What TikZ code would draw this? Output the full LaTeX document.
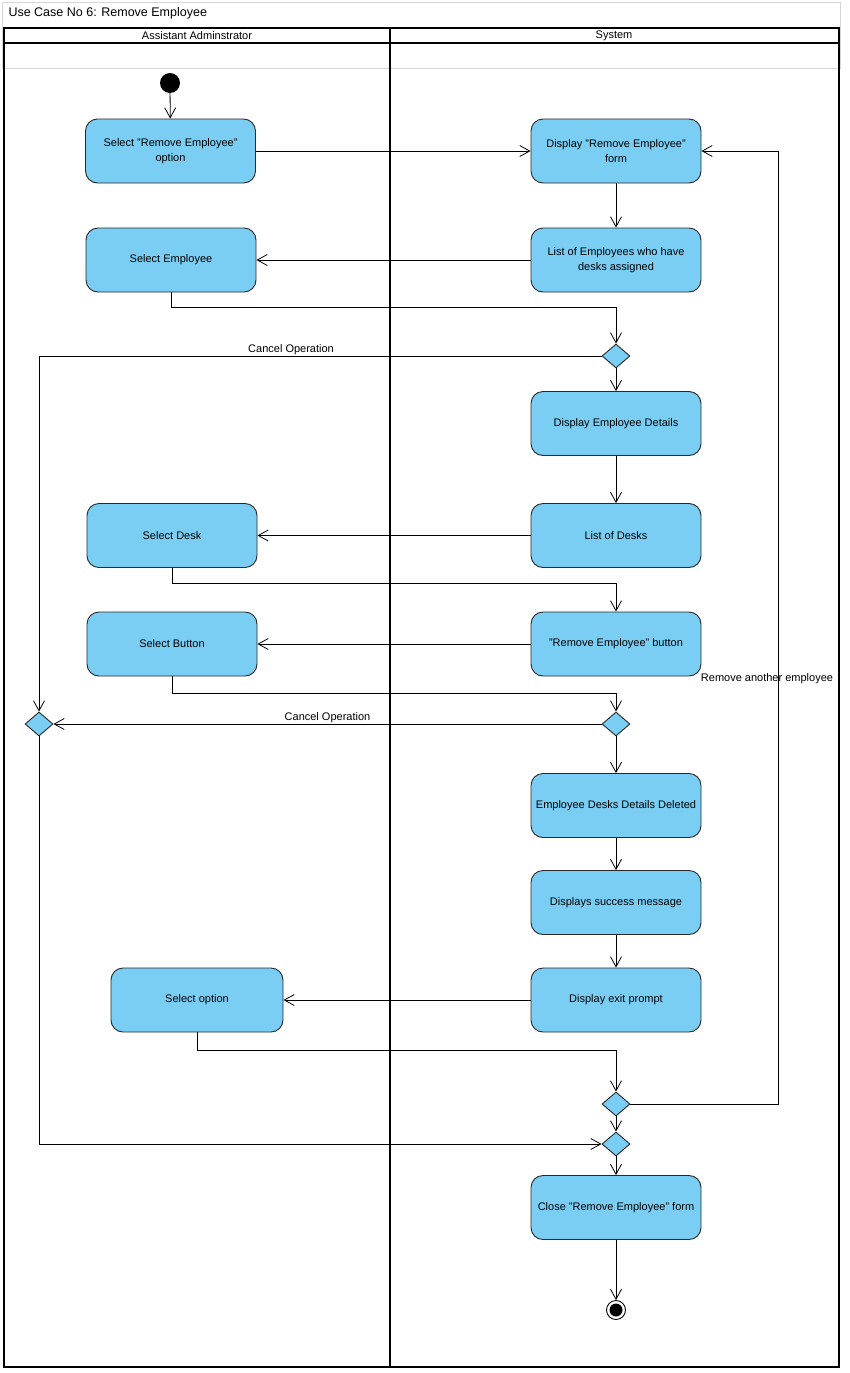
\documentclass[tikz,border=0pt]{standalone}
\usepackage{fontspec}
\setmainfont{Liberation Sans}
\usetikzlibrary{arrows.meta,shapes.geometric}
\definecolor{actblue}{RGB}{122,206,244}
\definecolor{actedge}{RGB}{40,40,40}
\definecolor{framegray}{RGB}{215,215,215}
\begin{document}
\begin{tikzpicture}[x=1pt,y=-1pt,
  every node/.style={font=\fontsize{11}{15.5}\selectfont},
  act/.style={draw=actedge, line width=0.9pt, fill=actblue, rounded corners=12pt,
    minimum width=170pt, minimum height=64pt, align=center, inner sep=2pt},
  decision/.style={draw=actedge, line width=0.9pt, fill=actblue, diamond,
    minimum width=28pt, minimum height=24pt, inner sep=0pt},
  flow/.style={draw=black, line width=0.8pt, -{Straight Barb[length=10pt,width=11pt,line width=0.8pt]}},
  lane/.style={draw=black, line width=1.8pt},
  guard/.style={inner sep=1pt}]
\useasboundingbox (0,0) rectangle (849,1373);

% outer frame and title
\draw[framegray, line width=0.8pt] (2,2) rectangle (840,68);
\node[anchor=west, font=\fontsize{12.5}{14}\selectfont] (title) at (5,13) {Use Case No 6: Remove Employee};

% swimlanes
\fill[white] (4,28) rectangle (839,1367);
\draw[framegray, line width=0.8pt] (4,68) -- (839,68);
\draw[lane] (4,28) rectangle (839,1367);
\draw[lane] (4,43) -- (839,43);
\draw[lane] (390,28) -- (390,1367);
\node (laneA) at (197,36) {Assistant Adminstrator};
\node (laneS) at (614,36) {System};

% start and end
\fill (170,83) circle (10pt);
\node[circle, minimum size=20pt, inner sep=0pt] (start) at (170,83) {};
\node[circle, draw=black, line width=0.9pt, minimum size=19pt, inner sep=0pt] (fin) at (616,1310) {};
\fill (fin.center) circle (6.5pt);

% actions
\node[act] (a1) at (170.5,151) {Select "Remove Employee"\\option};
\node[act] (s1) at (616,151) {Display "Remove Employee"\\form};
\node[act] (a2) at (171,260) {Select Employee};
\node[act] (s2) at (616,260) {List of Employees who have\\desks assigned};
\node[decision] (d1) at (616,356) {};
\node[act] (s3) at (616,423.5) {Display Employee Details};
\node[act] (s4) at (616,535.5) {List of Desks};
\node[act] (a3) at (172,535.5) {Select Desk};
\node[act] (a4) at (172,644) {Select Button};
\node[act] (s5) at (616,644) {"Remove Employee" button};
\node[decision] (dL) at (39,724) {};
\node[decision] (dR) at (616,724) {};
\node[act] (s6) at (616,805.5) {Employee Desks Details Deleted};
\node[act] (s7) at (616,902.5) {Displays success message};
\node[act] (s8) at (616,1000) {Display exit prompt};
\node[act, minimum width=172pt] (a5) at (197,1000) {Select option};
\node[decision] (d3) at (616,1104) {};
\node[decision] (d4) at (616,1144) {};
\node[act] (s9) at (616,1207.5) {Close "Remove Employee" form};

\coordinate (loop) at (778,151);

% control flows
\draw[flow] (start) -- (a1);
\draw[flow] (a1) -- (s1);
\draw[flow] (s1) -- (s2);
\draw[flow] (s2) -- (a2);
\draw[flow] (a2.south) -- ++(0,15) -| (d1.north);
\draw[flow] (d1.west) -| node[pos=0.276, above, guard] (g1) {Cancel Operation} (dL.north);
\draw[flow] (d1) -- (s3);
\draw[flow] (s3) -- (s4);
\draw[flow] (s4) -- (a3);
\draw[flow] (a3.south) -- ++(0,15) -| (s5.north);
\draw[flow] (s5) -- (a4);
\draw[flow] (a4.south) -- ++(0,17) -| (dR.north);
\draw[flow] (dR.west) -- node[above, guard] (g2) {Cancel Operation} (dL.east);
\draw[flow] (dR) -- (s6);
\draw[flow] (s6) -- (s7);
\draw[flow] (s7) -- (s8);
\draw[flow] (s8) -- (a5);
\draw[flow] (a5.south) -- ++(0,18) -| (d3.north);
\draw[flow] (d3.east) -| (loop) -- (s1.east);
\node (g3) at (767,679) {Remove another employee};
\draw[flow] (d3) -- (d4);
\draw[flow] (dL.south) |- (d4.west);
\draw[flow] (d4) -- (s9);
\draw[flow] (s9) -- (fin);
\end{tikzpicture}
\end{document}
